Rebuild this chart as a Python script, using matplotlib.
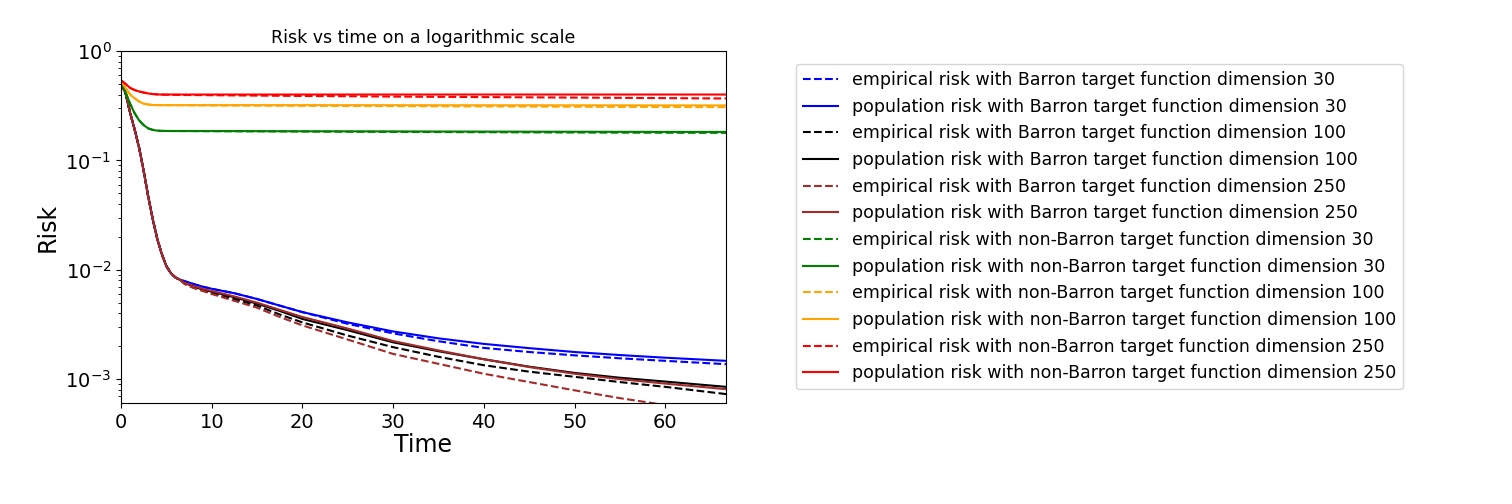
import numpy as np
import matplotlib
matplotlib.use('Agg')
import matplotlib.pyplot as plt

# time grid shared by all curves
t = [0, 0.5, 1, 1.5, 2, 2.5, 3, 3.5, 4, 4.5, 5, 5.5, 6, 6.5, 7, 8, 9, 10,
     12.5, 15, 17.5, 20, 25, 30, 35, 40, 45, 50, 55, 60, 66.7]

# common early descent of the Barron curves (t = 0 .. 6.5)
barron_head = [0.51, 0.413, 0.273, 0.192, 0.13, 0.080, 0.0466, 0.029, 0.0191,
               0.0139, 0.0108, 0.0093, 0.0085, 0.0081]

emp_b30 = barron_head + [0.0078, 0.0074, 0.0070, 0.0067, 0.0061, 0.0054, 0.0047, 0.0041,
                         0.0032, 0.00262, 0.00222, 0.00193, 0.00177, 0.00165, 0.00155,
                         0.00147, 0.00137]
pop_b30 = barron_head + [0.0079, 0.0074, 0.0070, 0.0067, 0.0061, 0.0054, 0.0047, 0.0041,
                         0.0033, 0.00273, 0.00236, 0.0021, 0.00192, 0.00177, 0.00166,
                         0.00157, 0.00147]
emp_b100 = barron_head + [0.0075, 0.0069, 0.0065, 0.0061, 0.0054, 0.0047, 0.0039, 0.0033,
                          0.0025, 0.00196, 0.00160, 0.00134, 0.00117, 0.00105, 0.00094,
                          0.00085, 0.00073]
pop_b100 = barron_head + [0.0076, 0.0070, 0.0066, 0.0063, 0.0056, 0.0049, 0.0042, 0.00355,
                          0.0028, 0.00217, 0.0018, 0.00152, 0.0013, 0.00114, 0.00103,
                          0.00095, 0.00085]
emp_b250 = barron_head + [0.0074, 0.0068, 0.0064, 0.0060, 0.0052, 0.0045, 0.0037, 0.0031,
                          0.0023, 0.0017, 0.00138, 0.00112, 0.00094, 0.00079, 0.00067,
                          0.00058, 0.00049]
pop_b250 = barron_head + [0.0076, 0.0071, 0.0067, 0.0064, 0.0057, 0.0050, 0.0043, 0.0037,
                          0.0029, 0.00223, 0.00183, 0.00152, 0.00129, 0.00112, 0.00100,
                          0.00091, 0.00081]

emp_nb30 = [0.54, 0.42, 0.33, 0.27, 0.232, 0.21, 0.196, 0.19, 0.187, 0.186, 0.1858, 0.1856,
            0.1855, 0.1854, 0.1853, 0.1852, 0.185, 0.1848, 0.1845, 0.1842, 0.1838, 0.1835,
            0.1828, 0.1821, 0.1815, 0.1809, 0.1803, 0.1798, 0.1793, 0.1789, 0.1785]
pop_nb30 = [0.54, 0.42, 0.33, 0.27, 0.232, 0.21, 0.196, 0.19, 0.187, 0.186, 0.1858, 0.1856,
            0.1855, 0.1855, 0.1855, 0.1855, 0.1854, 0.1854, 0.1852, 0.185, 0.1848, 0.1846,
            0.1843, 0.184, 0.1836, 0.1833, 0.183, 0.1827, 0.1824, 0.1822, 0.182]
emp_nb100 = [0.54, 0.46, 0.40, 0.37, 0.345, 0.33, 0.324, 0.321, 0.320, 0.3198, 0.3196,
             0.3194, 0.3192, 0.319, 0.3188, 0.3185, 0.3182, 0.3179, 0.3173, 0.3167, 0.3161,
             0.3155, 0.3145, 0.3135, 0.3125, 0.3115, 0.3105, 0.3095, 0.3085, 0.3077, 0.307]
pop_nb100 = [0.54, 0.46, 0.40, 0.37, 0.345, 0.33, 0.324, 0.321, 0.320, 0.320, 0.320, 0.320,
             0.320, 0.320, 0.320, 0.320, 0.320, 0.320, 0.320, 0.320, 0.320, 0.320, 0.3198,
             0.3196, 0.3194, 0.3192, 0.319, 0.3188, 0.3186, 0.3184, 0.318]
emp_nb250 = [0.54, 0.50, 0.46, 0.44, 0.426, 0.417, 0.409, 0.404, 0.401, 0.399, 0.398, 0.3975,
             0.397, 0.3965, 0.396, 0.3955, 0.395, 0.394, 0.3925, 0.391, 0.3895, 0.388, 0.386,
             0.383, 0.381, 0.379, 0.377, 0.375, 0.373, 0.371, 0.368]
pop_nb250 = [0.54, 0.50, 0.46, 0.44, 0.426, 0.417, 0.409, 0.404, 0.401, 0.400, 0.400, 0.400,
             0.400, 0.400, 0.400, 0.400, 0.400, 0.400, 0.400, 0.400, 0.400, 0.400, 0.400,
             0.400, 0.400, 0.400, 0.400, 0.400, 0.400, 0.400, 0.400]

series = [
    (emp_b30, 'blue', '--', 'empirical risk with Barron target function dimension 30'),
    (pop_b30, 'blue', '-', 'population risk with Barron target function dimension 30'),
    (emp_b100, 'black', '--', 'empirical risk with Barron target function dimension 100'),
    (pop_b100, 'black', '-', 'population risk with Barron target function dimension 100'),
    (emp_b250, 'brown', '--', 'empirical risk with Barron target function dimension 250'),
    (pop_b250, 'brown', '-', 'population risk with Barron target function dimension 250'),
    (emp_nb30, 'green', '--', 'empirical risk with non-Barron target function dimension 30'),
    (pop_nb30, 'green', '-', 'population risk with non-Barron target function dimension 30'),
    (emp_nb100, 'orange', '--', 'empirical risk with non-Barron target function dimension 100'),
    (pop_nb100, 'orange', '-', 'population risk with non-Barron target function dimension 100'),
    (emp_nb250, 'red', '--', 'empirical risk with non-Barron target function dimension 250'),
    (pop_nb250, 'red', '-', 'population risk with non-Barron target function dimension 250'),
]

fig = plt.figure(figsize=(15.12, 5.04), dpi=100)
ax = fig.add_axes([121/1512, 101/504, 605/1512, 352/504])

for y, c, ls, lab in series:
    ax.plot(t, y, color=c, linestyle=ls, linewidth=1.5, label=lab)

ax.set_yscale('log')
ax.set_xlim(0, 66.7)
ax.set_ylim(6.05e-4, 1.0)
ax.tick_params(axis='both', labelsize=14)
ax.set_xlabel('Time', fontsize=17, labelpad=1)
ax.set_ylabel('Risk', fontsize=17)
ax.set_title('Risk vs time on a logarithmic scale', fontsize=12.5)

fig.legend(loc='upper left', bbox_to_anchor=(796/1512, 1 - 64/504),
           borderaxespad=0, fontsize=12.5)

fig.savefig('out.png', dpi=100)
